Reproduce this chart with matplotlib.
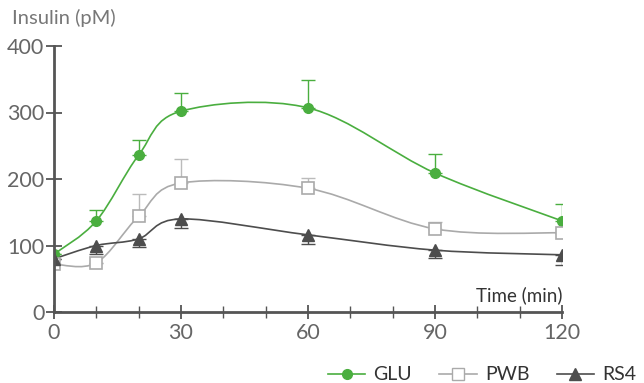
import numpy as np
import matplotlib
matplotlib.use("Agg")
from matplotlib import pyplot as plt
from matplotlib.path import Path
from matplotlib.patches import PathPatch
from matplotlib.lines import Line2D

# data
time = [0, 10, 20, 30, 60, 90, 120]
glu = [87, 137, 236, 302, 307, 209, 137]
glu_up = [0, 16, 23, 27, 42, 29, 25]
pwb = [72, 74, 144, 194, 186, 125, 119]
pwb_up = [0, 0, 33, 36, 16, 10, 0]
rs4 = [80, 100, 110, 140, 116, 93, 86]
rs4_down = [0, 13, 12, 14, 14, 12, 15]

plt.rcParams['font.family'] = ['Lato', 'DejaVu Sans']

c_glu = '#4aae3f'
c_pwb = '#aaaaaa'
c_rs4 = '#4d4d4d'


def smooth_path(x, y, k=1.0):
    # catmull-rom style bezier through the points
    x = np.asarray(x, float)
    y = np.asarray(y, float)
    pts = np.column_stack([x, y])
    n = len(pts)
    verts = [pts[0]]
    codes = [Path.MOVETO]
    for i in range(n - 1):
        p0 = pts[i - 1] if i > 0 else pts[i]
        p1 = pts[i]
        p2 = pts[i + 1]
        p3 = pts[i + 2] if i + 2 < n else pts[i + 1]
        c1 = p1 + (p2 - p0) / 6 * k
        c2 = p2 - (p3 - p1) / 6 * k
        verts += [c1, c2, p2]
        codes += [Path.CURVE4] * 3
    return Path(verts, codes)


fig = plt.figure(figsize=(6.44, 3.83), dpi=100)
ax = fig.add_axes([54 / 644, 71 / 383, 508 / 644, 266 / 383])

for y, col in [(glu, c_glu), (pwb, c_pwb), (rs4, c_rs4)]:
    ax.add_patch(PathPatch(smooth_path(time, y), facecolor='none', edgecolor=col, lw=1.2, zorder=2))

z = [0] * len(time)
ax.errorbar(time, glu, yerr=[z, glu_up], fmt='none', ecolor=c_glu, elinewidth=1, capsize=5, zorder=3)
ax.errorbar(time, pwb, yerr=[z, pwb_up], fmt='none', ecolor='#bbbbbb', elinewidth=1, capsize=5, zorder=3)
ax.errorbar(time, rs4, yerr=[rs4_down, z], fmt='none', ecolor=c_rs4, elinewidth=1, capsize=5, zorder=3)

ax.plot(time, glu, 'o', ms=7, color=c_glu, zorder=4)
ax.plot(time, pwb, 's', ms=8, mfc='white', mec=c_pwb, mew=1.2, zorder=4)
ax.plot(time, rs4, '^', ms=8, color=c_rs4, zorder=4)

ax.set_xlim(0, 120)
ax.set_ylim(0, 400)
ax.set_xticks([0, 30, 60, 90, 120])
ax.set_xticks(range(0, 121, 10), minor=True)
ax.set_yticks([0, 100, 200, 300, 400])
for s in ['top', 'right']:
    ax.spines[s].set_visible(False)
for s in ['left', 'bottom']:
    ax.spines[s].set_color('#555555')
    ax.spines[s].set_linewidth(2)
ax.tick_params(axis='y', direction='inout', length=12, width=1.3, color='#555555',
               labelsize=15.5, labelcolor='#666666', pad=1)
ax.tick_params(axis='x', which='major', direction='inout', length=10, width=1.3, color='#555555',
               labelsize=15.5, labelcolor='#666666', pad=3)
ax.tick_params(axis='x', which='minor', direction='inout', length=8, width=1.0, color='#555555')
ax.set_facecolor('none')
for sp in ax.spines.values():
    sp.set_zorder(5)

fig.text(12 / 644, 1 - 18 / 383, 'Insulin (pM)', fontsize=14.5, color='#777777', va='center', ha='left')
fig.text(562 / 644, 1 - 295 / 383, 'Time (min)', fontsize=13.5, color='#333333', va='center', ha='right')

handles = [
    Line2D([], [], color=c_glu, marker='o', ms=7, lw=1.2),
    Line2D([], [], color=c_pwb, marker='s', ms=8, mfc='white', mec=c_pwb, lw=1.2),
    Line2D([], [], color=c_rs4, marker='^', ms=8, lw=1.2),
]
fig.legend(handles, ['GLU', 'PWB', 'RS4'], loc='center right', bbox_to_anchor=(1.0, 1 - 375 / 383),
           ncol=3, frameon=False, fontsize=14, handlelength=1.95, columnspacing=1.4,
           handletextpad=0.4, labelcolor='#333333', borderaxespad=0.2, borderpad=0.2)

fig.savefig('out.png', dpi=100)
